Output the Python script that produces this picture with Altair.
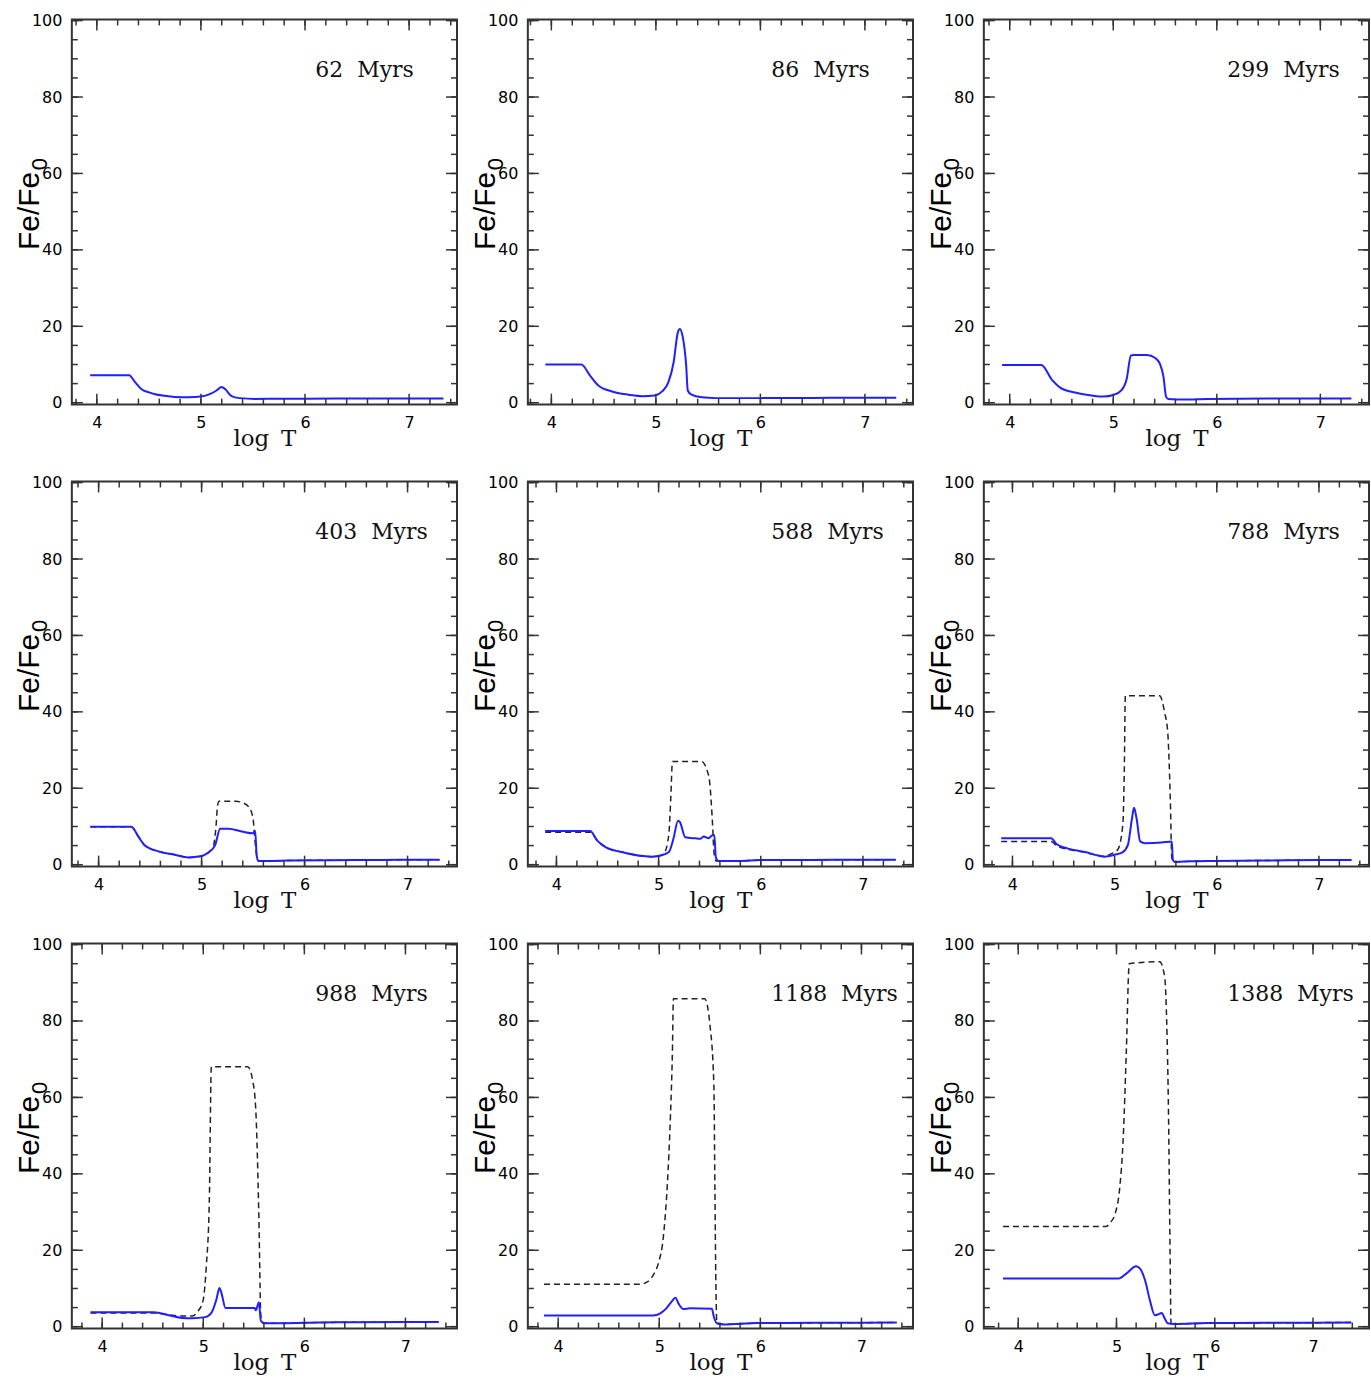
import altair as alt
import pandas as pd

# ---------------- data ----------------
ages = ["62", "86", "299", "403", "588", "788", "988", "1188", "1388"]

x_domains = [
    [3.76, 7.46], [3.775, 7.46], [3.75, 7.47],
    [3.74, 7.48], [3.72, 7.49], [3.72, 7.49],
    [3.70, 7.51], [3.70, 7.51], [3.65, 7.57],
]
y_domain = [-0.5, 100.3]

x_tick_labels = [4, 5, 6, 7]
y_tick_labels = [0, 20, 40, 60, 80, 100]
x_minor_ticks = [3.6, 3.8, 4.0, 4.2, 4.4, 4.6, 4.8, 5.0, 5.2, 5.4, 5.6, 5.8,
                 6.0, 6.2, 6.4, 6.6, 6.8, 7.0, 7.2, 7.4]
x_major_ticks = [4, 5, 6, 7]
y_minor_ticks = [0, 5, 10, 15, 20, 25, 30, 35, 40, 45, 50, 55, 60, 65, 70,
                 75, 80, 85, 90, 95, 100]
y_major_ticks = [0, 20, 40, 60, 80, 100]

# 62 Myrs
blue_x_1 = [3.936, 4.31, 4.37, 4.43, 4.50, 4.56, 4.65, 4.75, 4.88, 5.00, 5.09, 5.15, 5.198, 5.235, 5.29, 5.37, 5.52, 6.0, 6.5, 7.0, 7.33]
blue_y_1 = [7.2, 7.2, 5.3, 3.5, 2.7, 2.2, 1.8, 1.5, 1.4, 1.6, 2.3, 3.2, 4.1, 3.5, 1.8, 1.2, 1.0, 1.05, 1.1, 1.1, 1.1]
dash_x_1 = []
dash_y_1 = []
# 86 Myrs
blue_x_2 = [3.943, 4.287, 4.37, 4.45, 4.58, 4.74, 4.87, 4.99, 5.06, 5.12, 5.17, 5.21, 5.23, 5.255, 5.29, 5.305, 5.34, 5.44, 5.57, 6.0, 6.5, 7.0, 7.3]
blue_y_2 = [10.0, 10.0, 7.1, 4.5, 2.95, 2.1, 1.7, 1.9, 2.95, 5.4, 10.6, 18.4, 19.3, 17.5, 9.7, 3.2, 2.1, 1.4, 1.2, 1.2, 1.25, 1.3, 1.3]
dash_x_2 = []
dash_y_2 = []
# 299 Myrs
blue_x_3 = [3.926, 4.305, 4.41, 4.49, 4.63, 4.79, 4.91, 5.0, 5.08, 5.13, 5.17, 5.196, 5.325, 5.405, 5.45, 5.485, 5.51, 5.53, 5.69, 5.92, 6.5, 7.0, 7.3]
blue_y_3 = [9.9, 9.9, 5.9, 3.9, 2.65, 1.9, 1.6, 2.0, 3.3, 6.3, 12.3, 12.5, 12.5, 11.7, 10.2, 6.75, 1.6, 1.0, 0.85, 1.0, 1.1, 1.1, 1.1]
dash_x_3 = []
dash_y_3 = []
# 403 Myrs
blue_x_4 = [3.92, 4.317, 4.39, 4.45, 4.58, 4.74, 4.87, 4.99, 5.05, 5.13, 5.18, 5.26, 5.39, 5.50, 5.52, 5.535, 5.55, 5.65, 5.84, 6.5, 7.0, 7.31]
blue_y_4 = [9.9, 9.9, 7.2, 5.0, 3.5, 2.6, 1.9, 2.2, 2.9, 5.0, 9.4, 9.4, 8.7, 8.2, 8.9, 2.4, 1.0, 0.95, 1.1, 1.2, 1.3, 1.3]
dash_x_4 = [3.92, 4.317, 4.39, 4.45, 4.58, 4.74, 4.87, 4.99, 5.05, 5.11, 5.14, 5.155, 5.17, 5.33, 5.41, 5.47, 5.50, 5.52, 5.54, 5.55, 5.65, 5.84, 6.5, 7.0, 7.31]
dash_y_4 = [9.9, 9.9, 7.2, 5.0, 3.5, 2.6, 1.9, 2.2, 2.9, 4.5, 10.0, 15.5, 16.6, 16.6, 16.1, 14.6, 12.0, 5.9, 1.6, 1.0, 0.95, 1.1, 1.2, 1.3, 1.3]
# 588 Myrs
blue_x_5 = [3.89, 4.33, 4.40, 4.48, 4.64, 4.80, 4.93, 5.02, 5.10, 5.145, 5.19, 5.21, 5.26, 5.36, 5.41, 5.44, 5.49, 5.52, 5.545, 5.56, 5.585, 5.78, 6.0, 6.5, 7.0, 7.32]
blue_y_5 = [8.8, 8.8, 6.3, 4.6, 3.3, 2.4, 2.1, 2.4, 3.3, 6.8, 11.5, 11.1, 7.2, 6.9, 6.8, 7.4, 6.9, 7.6, 7.8, 2.0, 0.95, 0.95, 1.2, 1.25, 1.3, 1.3]
dash_x_5 = [3.89, 4.33, 4.40, 4.48, 4.64, 4.80, 4.93, 5.02, 5.06, 5.10, 5.12, 5.135, 5.42, 5.47, 5.50, 5.525, 5.545, 5.565, 5.78, 6.0, 6.5, 7.0, 7.32]
dash_y_5 = [8.5, 8.5, 6.3, 4.6, 3.3, 2.4, 2.1, 2.4, 3.3, 8.0, 18.0, 27.0, 27.0, 25.0, 21.5, 12.0, 2.4, 0.95, 0.95, 1.2, 1.25, 1.3, 1.3]
# 788 Myrs
blue_x_6 = [3.89, 4.38, 4.43, 4.545, 4.71, 4.84, 4.90, 5.0, 5.08, 5.13, 5.17, 5.19, 5.215, 5.25, 5.30, 5.46, 5.56, 5.57, 5.59, 5.75, 5.98, 6.5, 7.0, 7.32]
blue_y_6 = [6.9, 6.9, 5.4, 4.2, 3.3, 2.4, 2.1, 2.6, 3.3, 5.2, 12.1, 14.9, 12.1, 6.1, 5.6, 5.8, 6.1, 1.3, 0.7, 0.9, 1.0, 1.1, 1.2, 1.2]
dash_x_6 = [3.89, 4.38, 4.43, 4.545, 4.71, 4.84, 4.90, 4.97, 5.03, 5.08, 5.095, 5.105, 5.44, 5.49, 5.52, 5.545, 5.56, 5.58, 5.75, 5.98, 6.5, 7.0, 7.32]
dash_y_6 = [6.1, 6.1, 5.0, 4.0, 3.2, 2.4, 2.2, 2.9, 3.9, 10.4, 25.0, 44.2, 44.2, 39.8, 34.6, 17.3, 1.7, 0.7, 0.9, 1.0, 1.1, 1.2, 1.2]
# 988 Myrs
blue_x_7 = [3.885, 4.51, 4.66, 4.79, 4.89, 5.02, 5.08, 5.13, 5.16, 5.18, 5.22, 5.31, 5.51, 5.52, 5.55, 5.57, 5.61, 5.81, 6.14, 6.5, 7.0, 7.33]
blue_y_7 = [3.8, 3.8, 3.0, 2.3, 2.2, 2.5, 3.6, 7.1, 10.1, 8.8, 4.9, 4.9, 4.9, 4.3, 6.4, 1.5, 0.9, 0.9, 1.1, 1.15, 1.2, 1.2]
dash_x_7 = [3.885, 4.5, 4.66, 4.79, 4.89, 4.95, 5.0, 5.03, 5.06, 5.08, 5.44, 5.49, 5.52, 5.55, 5.57, 5.59, 5.81, 6.14, 6.5, 7.0, 7.33]
dash_y_7 = [3.6, 3.6, 3.1, 2.8, 2.8, 4.1, 7.1, 15.8, 33.1, 68.0, 68.0, 64.3, 56.5, 28.8, 2.8, 0.9, 0.9, 1.1, 1.15, 1.2, 1.2]
# 1188 Myrs
blue_x_8 = [3.86, 4.94, 5.01, 5.07, 5.12, 5.16, 5.19, 5.24, 5.30, 5.52, 5.54, 5.57, 5.64, 5.97, 6.5, 7.0, 7.35]
blue_y_8 = [2.95, 2.95, 3.5, 4.8, 6.5, 7.6, 6.1, 4.6, 4.8, 4.7, 2.6, 0.9, 0.6, 0.95, 1.0, 1.05, 1.1]
dash_x_8 = [3.86, 4.81, 4.88, 4.94, 4.99, 5.04, 5.08, 5.11, 5.13, 5.14, 5.45, 5.50, 5.54, 5.55, 5.56, 5.57, 5.64, 5.97, 6.5, 7.0, 7.35]
dash_y_8 = [11.1, 11.1, 11.7, 13.5, 16.5, 23.4, 37.3, 54.7, 72.0, 85.8, 85.8, 79.3, 63.4, 37.3, 11.3, 0.9, 0.6, 0.95, 1.0, 1.05, 1.1]
# 1388 Myrs
blue_x_9 = [3.845, 5.02, 5.10, 5.20, 5.24, 5.29, 5.34, 5.39, 5.42, 5.46, 5.49, 5.52, 5.59, 5.93, 6.5, 7.0, 7.39]
blue_y_9 = [12.6, 12.6, 13.9, 15.8, 15.2, 12.2, 6.9, 3.0, 3.2, 3.6, 2.2, 0.9, 0.7, 0.95, 1.0, 1.05, 1.1]
dash_x_9 = [3.845, 4.89, 4.94, 4.99, 5.03, 5.07, 5.10, 5.13, 5.44, 5.49, 5.51, 5.53, 5.545, 5.555, 5.59, 5.93, 6.5, 7.0, 7.39]
dash_y_9 = [26.2, 26.2, 27.3, 29.9, 35.6, 50.3, 72.0, 95.0, 95.5, 91.6, 80.7, 54.7, 20.0, 0.7, 0.7, 0.95, 1.0, 1.05, 1.1]

blue_xs = [blue_x_1, blue_x_2, blue_x_3, blue_x_4, blue_x_5, blue_x_6, blue_x_7, blue_x_8, blue_x_9]
blue_ys = [blue_y_1, blue_y_2, blue_y_3, blue_y_4, blue_y_5, blue_y_6, blue_y_7, blue_y_8, blue_y_9]
dash_xs = [dash_x_1, dash_x_2, dash_x_3, dash_x_4, dash_x_5, dash_x_6, dash_x_7, dash_x_8, dash_x_9]
dash_ys = [dash_y_1, dash_y_2, dash_y_3, dash_y_4, dash_y_5, dash_y_6, dash_y_7, dash_y_8, dash_y_9]

# ---------------- style ----------------
W, H = 386, 386
BLUE = "#1f1fff"
INK = "#222222"
FRAME = "#333333"
MINOR, MAJOR = 6, 11

X_AXIS = alt.Axis(
    values=x_tick_labels, ticks=False, tickSize=0, domain=False, grid=False,
    labelFont="DejaVu Sans", labelFontSize=16, labelColor="#000000",
    labelPadding=10, labelFlush=False, labelOverlap=False,
    title="log\u00a0\u2009T", titleFont="DejaVu Serif", titleFontSize=23,
    titleFontWeight="normal", titleColor="#111111",
    titleX=W / 2, titleY=41, titleAlign="center", titleBaseline="alphabetic",
)
Y_AXIS = alt.Axis(
    values=y_tick_labels, ticks=False, tickSize=0, domain=False, grid=False,
    labelFont="DejaVu Sans", labelFontSize=16, labelColor="#000000",
    labelPadding=10, labelFlush=False, labelOverlap=False, title=None,
)


def panel(i):
    xd = x_domains[i]
    xs = alt.Scale(domain=xd, nice=False, zero=False)
    ys = alt.Scale(domain=y_domain, nice=False, zero=False)

    def X(f):
        return alt.X(f, type="quantitative", scale=xs, axis=X_AXIS)

    def Y(f):
        return alt.Y(f, type="quantitative", scale=ys, axis=Y_AXIS)

    layers = []
    if dash_xs[i]:
        dash_df = pd.DataFrame({"logT": dash_xs[i], "fe": dash_ys[i]})
        layers.append(alt.Chart(dash_df).mark_line(
            color=INK, strokeWidth=1.5, strokeDash=[6, 4], interpolate="monotone"
        ).encode(x=X("logT"), y=Y("fe")))

    blue_df = pd.DataFrame({"logT": blue_xs[i], "fe": blue_ys[i]})
    layers.append(alt.Chart(blue_df).mark_line(
        color=BLUE, strokeWidth=2, interpolate="monotone"
    ).encode(x=X("logT"), y=Y("fe")))

    xmin = pd.DataFrame({"logT": [t for t in x_minor_ticks if xd[0] < t < xd[1]]})
    xmaj = pd.DataFrame({"logT": x_major_ticks})
    ymin = pd.DataFrame({"fe": y_minor_ticks})
    ymaj = pd.DataFrame({"fe": y_major_ticks})

    def xt(df, y0, y1):
        return alt.Chart(df).mark_rule(color=FRAME, strokeWidth=1.5).encode(
            x=X("logT"), y=alt.value(y0), y2=alt.value(y1))

    def yt(df, x0, x1):
        return alt.Chart(df).mark_rule(color=FRAME, strokeWidth=1.5).encode(
            y=Y("fe"), x=alt.value(x0), x2=alt.value(x1))

    layers += [
        xt(xmin, H, H - MINOR), xt(xmin, 0, MINOR),
        xt(xmaj, H, H - MAJOR), xt(xmaj, 0, MAJOR),
        yt(ymin, 0, MINOR), yt(ymin, W, W - MINOR),
        yt(ymaj, 0, MAJOR), yt(ymaj, W, W - MAJOR),
    ]

    age_df = pd.DataFrame({"s": [ages[i] + "\u00a0\u00a0Myrs"]})
    layers.append(alt.Chart(age_df).mark_text(
        align="left", baseline="alphabetic", font="DejaVu Serif", fontSize=22, color="#111111"
    ).encode(x=alt.value(244), y=alt.value(58), text="s:N"))

    t1 = pd.DataFrame({"s": ["Fe/Fe"]})
    t2 = pd.DataFrame({"s": ["0"]})
    layers.append(alt.Chart(t1).mark_text(
        angle=270, align="left", baseline="alphabetic", font="Liberation Sans",
        fontSize=30, color="#000000"
    ).encode(x=alt.value(-33), y=alt.value(231), text="s:N"))
    layers.append(alt.Chart(t2).mark_text(
        angle=270, align="left", baseline="alphabetic", font="Liberation Sans",
        fontSize=22, color="#000000"
    ).encode(x=alt.value(-25), y=alt.value(151), text="s:N"))

    return alt.layer(*layers).properties(width=W, height=H)


chart = alt.concat(
    *[panel(i) for i in range(9)],
    columns=3,
    spacing={"row": 77, "column": 71},
    bounds="flush",
).properties(
    padding={"left": 14, "top": 10, "right": 0, "bottom": 0},
    background="white",
).configure_view(stroke=FRAME, strokeWidth=2)

chart.save("out.html", embed_options={"renderer": "svg", "actions": False})
